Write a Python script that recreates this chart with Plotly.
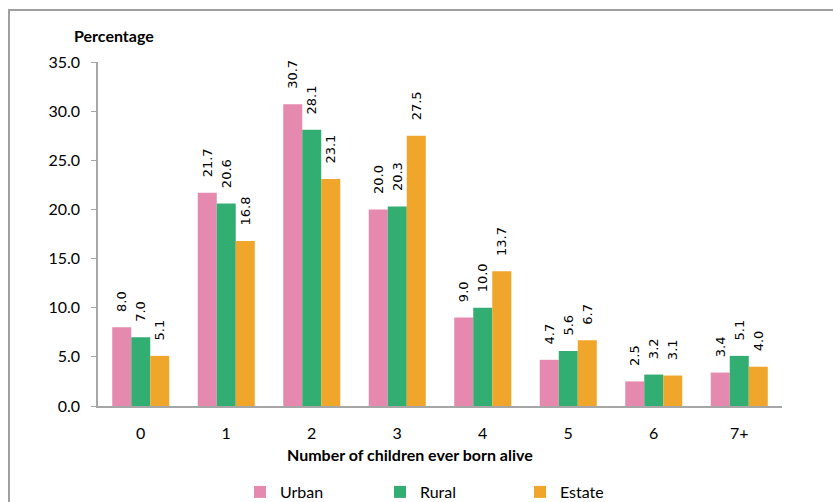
import plotly.graph_objects as go

categories = ["0", "1", "2", "3", "4", "5", "6", "7+"]
urban = [8.0, 21.7, 30.7, 20.0, 9.0, 4.7, 2.5, 3.4]
rural = [7.0, 20.6, 28.1, 20.3, 10.0, 5.6, 3.2, 5.1]
estate = [5.1, 16.8, 23.1, 27.5, 13.7, 6.7, 3.1, 4.0]
series_names = ["Urban", "Rural", "Estate"]
colors = ["#E58AAE", "#33AE72", "#F0A62A"]

W, H = 833, 502
ML, MR, MT, MB = 98, 51, 62, 96
pw, ph = W - ML - MR, H - MT - MB

def px_x(px):
    return (px - ML) / pw

def px_y(py):
    return (H - MB - py) / ph

fig = go.Figure()
for name, vals, col in zip(series_names, [urban, rural, estate], colors):
    fig.add_trace(go.Bar(
        x=categories, y=vals, name=name,
        marker=dict(color=col, line=dict(width=0)),
        texttemplate="\u00a0\u00a0\u00a0%{y:.1f}", textposition="outside", textangle=-90,
        constraintext="none",
        textfont=dict(family="DejaVu Sans", size=13, color="#000000"),
        cliponaxis=False,
    ))

fig.update_layout(
    width=W, height=H,
    margin=dict(l=ML, r=MR, t=MT, b=MB, autoexpand=False),
    paper_bgcolor="white", plot_bgcolor="white",
    barmode="group", bargap=0.333, bargroupgap=0,
    font=dict(family="Lato", size=16, color="#000000"),
    showlegend=True,
    legend=dict(orientation="h", x=px_x(240), xanchor="left",
                yref="container", y=(H - 492) / H, yanchor="middle",
                font=dict(family="Lato", size=16), entrywidth=95, entrywidthmode="pixels",
                itemwidth=30, tracegroupgap=0, bgcolor="rgba(0,0,0,0)"),
)
fig.update_xaxes(showline=True, linecolor="#A6A6A6", linewidth=1.5, ticks="",
                 showgrid=False, range=[-0.5, 7.5], ticklabelstandoff=12,
                 tickfont=dict(family="Lato", size=16))
fig.update_yaxes(showline=True, linecolor="#A6A6A6", linewidth=1.5, ticks="outside",
                 ticklen=5, tickcolor="#A6A6A6", showgrid=False, zeroline=False,
                 range=[0, 35], dtick=5, tickformat=".1f", ticklabelstandoff=8,
                 tickfont=dict(family="Lato", size=16))

fig.add_annotation(text="<b>Percentage</b>", xref="paper", yref="paper",
                   x=px_x(114), y=px_y(35), xanchor="center", yanchor="middle",
                   showarrow=False, font=dict(family="Lato", size=16))
fig.add_annotation(text="<b>Number of children ever born alive</b>", xref="paper", yref="paper",
                   x=px_x(410), y=px_y(454), xanchor="center", yanchor="middle",
                   showarrow=False, font=dict(family="Lato", size=16))
fig.add_shape(type="rect", xref="paper", yref="paper",
              x0=px_x(9), x1=px_x(900), y0=px_y(560), y1=px_y(10),
              line=dict(color="#A0A0A0", width=2), layer="below")

fig.write_html("out.html")
